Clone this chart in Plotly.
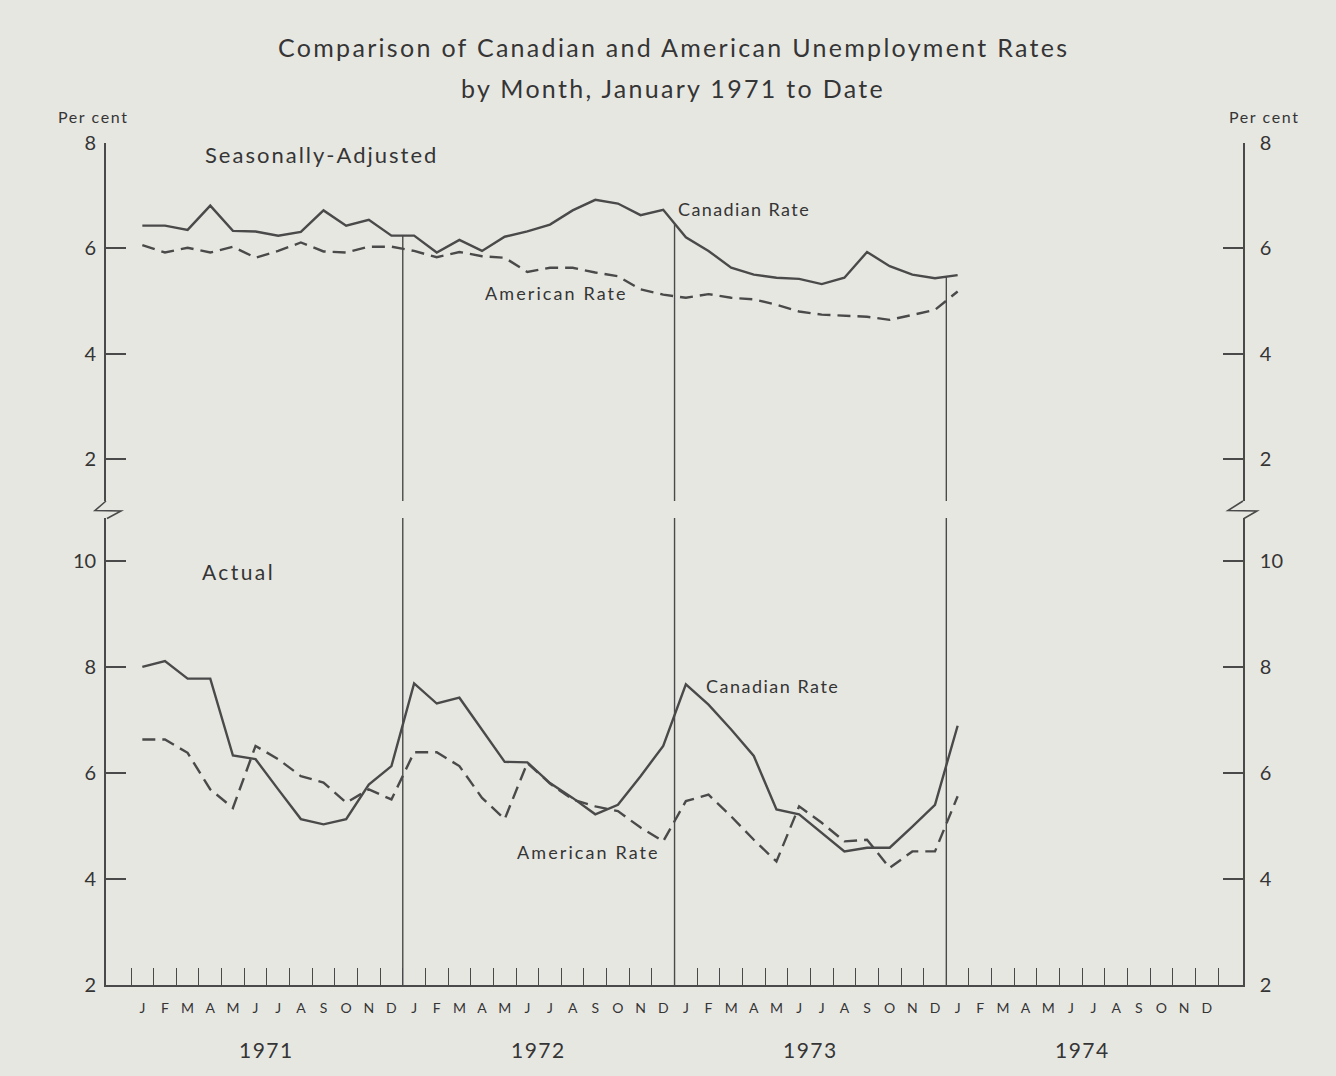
import plotly.graph_objects as go

# ---- data: monthly unemployment rates, Jan 1971 - Jan 1974 (per cent) ----
months = ["J", "F", "M", "A", "M", "J", "J", "A", "S", "O", "N", "D"]
years = ["1971", "1972", "1973", "1974"]

sa_canada = [6.43, 6.43, 6.35, 6.81, 6.33, 6.32, 6.24, 6.31, 6.72, 6.43, 6.54, 6.24,
             6.24, 5.92, 6.16, 5.95, 6.22, 6.32, 6.45, 6.72, 6.92, 6.85, 6.63, 6.73,
             6.21, 5.95, 5.63, 5.50, 5.44, 5.42, 5.32, 5.44, 5.93, 5.66, 5.50, 5.43,
             5.49]
sa_us = [6.06, 5.92, 6.01, 5.92, 6.03, 5.82, 5.95, 6.11, 5.94, 5.92, 6.03, 6.03,
         5.95, 5.83, 5.93, 5.85, 5.82, 5.55, 5.63, 5.63, 5.54, 5.47, 5.22, 5.12,
         5.06, 5.13, 5.06, 5.03, 4.93, 4.80, 4.74, 4.72, 4.70, 4.64, 4.74, 4.83,
         5.18]
act_canada = [8.00, 8.11, 7.78, 7.78, 6.33, 6.26, 5.69, 5.13, 5.03, 5.13, 5.78, 6.13,
              7.69, 7.31, 7.42, 6.82, 6.21, 6.20, 5.81, 5.53, 5.22, 5.40, 5.94, 6.51,
              7.67, 7.29, 6.82, 6.32, 5.31, 5.22, 4.87, 4.52, 4.59, 4.59, 4.99, 5.40,
              6.89]
act_us = [6.63, 6.63, 6.38, 5.69, 5.34, 6.51, 6.26, 5.94, 5.82, 5.44, 5.69, 5.50,
          6.39, 6.39, 6.13, 5.53, 5.13, 6.19, 5.80, 5.50, 5.37, 5.28, 4.97, 4.71,
          5.47, 5.59, 5.18, 4.74, 4.33, 5.37, 5.06, 4.71, 4.74, 4.21, 4.52, 4.52,
          5.56]

# ---- page geometry (pixels) ----
W, H = 1336, 1076
ML, MR, MT, MB = 106, 93, 143, 91
PW, PH = W - ML - MR, H - MT - MB

def fx(px):
    return (px - ML) / PW

def fy(py):
    return (H - MB - py) / PH

INK = "#4a4a4a"
TXT = "#353535"
BG = "#e7e7e2"
FONT = "Lato, 'Noto Sans', sans-serif"

# month axis: month k occupies [k, k+1]; points plotted mid-month
x_pts = [k + 0.5 for k in range(len(sa_canada))]
x_lbl = [k + 0.5 for k in range(48)]
t_lbl = months * 4

TOP_RANGE = [1.2, 8.0]
BOT_RANGE = [2.0, 10.81]
TOP_DOM = [fy(501), 1.0]
BOT_DOM = [0.0, fy(518)]

fig = go.Figure()

line_solid = dict(color=INK, width=2.4)
line_dash = dict(color=INK, width=2.4, dash="13px,7px")

fig.add_trace(go.Scatter(x=x_pts, y=sa_canada, mode="lines", line=line_solid,
                         yaxis="y2", name="Canadian Rate (s.a.)"))
fig.add_trace(go.Scatter(x=x_pts, y=sa_us, mode="lines", line=line_dash,
                         yaxis="y2", name="American Rate (s.a.)"))
fig.add_trace(go.Scatter(x=x_pts, y=act_canada, mode="lines", line=line_solid,
                         yaxis="y", name="Canadian Rate"))
fig.add_trace(go.Scatter(x=x_pts, y=act_us, mode="lines", line=line_dash,
                         yaxis="y", name="American Rate"))
# carriers so the right-hand scales are rendered
fig.add_trace(go.Scatter(x=x_pts, y=sa_canada, mode="lines", yaxis="y3",
                         line=dict(width=0), opacity=0, hoverinfo="skip"))
fig.add_trace(go.Scatter(x=x_pts, y=act_canada, mode="lines", yaxis="y4",
                         line=dict(width=0), opacity=0, hoverinfo="skip"))

shapes = []
# year separators
for b in (12, 24, 36):
    top_val = (sa_canada[b - 1] + sa_canada[b]) / 2
    shapes.append(dict(type="line", xref="x", yref="y2", x0=b, x1=b,
                       y0=top_val, y1=TOP_RANGE[0], line=dict(color=INK, width=1.4)))
    shapes.append(dict(type="line", xref="x", yref="y", x0=b, x1=b,
                       y0=BOT_RANGE[1], y1=BOT_RANGE[0], line=dict(color=INK, width=1.4)))

# scale-break zigzags on both vertical axes
def zig(ax, left, right):
    pts = [(ax, 501), (ax - left, 510.5), (ax + right, 511), (ax + 1, 518.5)]
    p = "M " + " L ".join(f"{fx(x):.5f},{fy(y):.5f}" for x, y in pts)
    return dict(type="path", xref="paper", yref="paper", path=p,
                line=dict(color=INK, width=1.6))

shapes.append(zig(ML, 11, 15))
shapes.append(zig(ML + PW, 15, 14))

ann = []
def text(s, x, y, size, spacing, xref="paper", yref="paper", xanchor="center"):
    ann.append(dict(text=f"<span style='letter-spacing:{spacing}px'>{s}</span>",
                    x=x, y=y, xref=xref, yref=yref, showarrow=False,
                    xanchor=xanchor, yanchor="middle",
                    font=dict(family=FONT, size=size, color=TXT)))

text("Comparison of Canadian and American Unemployment Rates", fx(673), fy(47), 25, 2.3)
text("by Month, January 1971 to Date", fx(673), fy(88), 25, 2.3)
text("Per cent", fx(93), fy(117), 16, 1.6)
text("Per cent", fx(1264), fy(117), 16, 1.6)
text("Seasonally-Adjusted", 3.18, 7.79, 22, 2.0, "x", "y2", "left")
text("Canadian Rate", 24.05, 6.74, 18, 1.4, "x", "y2", "left")
text("American Rate", 15.55, 5.15, 18, 2.1, "x", "y2", "left")
text("Actual", 3.05, 9.81, 21, 2.4, "x", "y", "left")
text("Canadian Rate", 25.3, 7.64, 18, 1.5, "x", "y", "left")
text("American Rate", 16.95, 4.50, 18, 2.1, "x", "y", "left")
for k, yr in enumerate(years):
    text(yr, 12 * k + 6, fy(1049), 21, 1.5, "x", "paper")

yax_common = dict(showline=True, linecolor=INK, linewidth=1.6, ticks="inside",
                  ticklen=20, tickwidth=1.6, tickcolor=INK, showgrid=False,
                  zeroline=False, tickfont=dict(family=FONT, size=20, color=TXT),
                  fixedrange=True)
left_ax = dict(side="left", anchor="x", ticklabelstandoff=4, **yax_common)
right_ax = dict(side="right", anchor="x", ticklabelstandoff=11, **yax_common)

fig.update_layout(
    width=W, height=H, autosize=False,
    margin=dict(l=ML, r=MR, t=MT, b=MB),
    paper_bgcolor=BG, plot_bgcolor=BG,
    showlegend=False,
    xaxis=dict(range=[-1.104, 49.1], anchor="y", showline=True, linecolor=INK,
               linewidth=1.6, showgrid=False, zeroline=False,
               tickmode="array", tickvals=x_lbl, ticktext=t_lbl,
               ticks="inside", ticklen=0, tickcolor="rgba(0,0,0,0)",
               ticklabelstandoff=9,
               tickfont=dict(family=FONT, size=14, color=TXT),
               minor=dict(tickmode="array", tickvals=list(range(49)), ticks="inside",
                          ticklen=17, tickwidth=1.4, tickcolor=INK, showgrid=False)),
    yaxis=dict(domain=BOT_DOM, range=BOT_RANGE, tickvals=[2, 4, 6, 8, 10], **left_ax),
    yaxis2=dict(domain=TOP_DOM, range=TOP_RANGE, tickvals=[2, 4, 6, 8], **left_ax),
    yaxis3=dict(domain=TOP_DOM, range=TOP_RANGE, tickvals=[2, 4, 6, 8],
                overlaying="y2", **right_ax),
    yaxis4=dict(domain=BOT_DOM, range=BOT_RANGE, tickvals=[2, 4, 6, 8, 10],
                overlaying="y", **right_ax),
    shapes=shapes,
    annotations=ann,
)

fig.write_html("out.html")
